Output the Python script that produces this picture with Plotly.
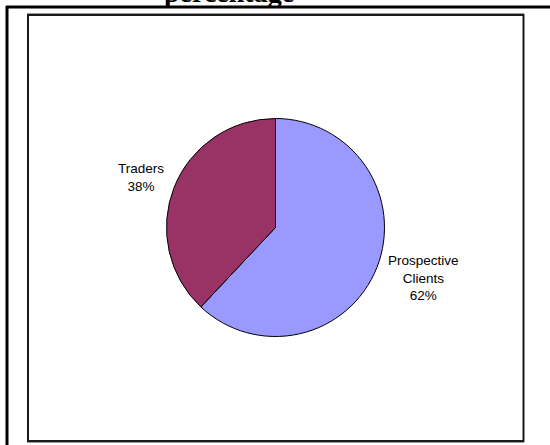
import plotly.graph_objects as go

# Chart data
labels = ["Prospective Clients", "Traders"]
values = [62, 38]
colors = ["#9999FF", "#993366"]
title_text = "percentage"

W, H = 550, 445


def px_x(x):
    return x / W


def px_y(y):
    return 1 - y / H


# Pie geometry (pixels)
cx, cy, r = 275.5, 227.5, 109

fig = go.Figure(
    go.Pie(
        labels=labels,
        values=values,
        sort=False,
        direction="clockwise",
        rotation=0,
        marker=dict(colors=colors, line=dict(color="black", width=1)),
        textinfo="none",
        hoverinfo="label+percent",
        showlegend=False,
        domain=dict(x=[px_x(cx - r), px_x(cx + r)], y=[px_y(cy + r), px_y(cy - r)]),
    )
)

total = sum(values)
pcts = [round(v / total * 100) for v in values]

# Outside slice labels
label_pos = {
    "Prospective Clients": (423, 278),
    "Traders": (141, 177),
}
annotations = []
for lab, pct in zip(labels, pcts):
    x, y = label_pos[lab]
    txt = "<br>".join(lab.split(" ")) + f"<br>{pct}%"
    annotations.append(
        dict(
            x=px_x(x), y=px_y(y), xref="paper", yref="paper",
            text=txt, showarrow=False, xanchor="center", yanchor="middle",
            font=dict(family="Liberation Sans, Arial", size=13.5, color="black"),
        )
    )

# Title, mostly above the visible page
annotations.append(
    dict(
        x=px_x(229), y=px_y(5), xref="paper", yref="paper",
        text=f"<b>{title_text}</b>", showarrow=False,
        xanchor="center", yanchor="bottom",
        font=dict(family="Liberation Serif, Times New Roman", size=28, color="black"),
        yshift=-5,
    )
)

shapes = [
    # outer frame lines
    dict(type="line", xref="paper", yref="paper", x0=px_x(7), x1=px_x(7),
         y0=px_y(6), y1=px_y(445), line=dict(color="black", width=3)),
    dict(type="line", xref="paper", yref="paper", x0=px_x(6), x1=px_x(550),
         y0=px_y(7), y1=px_y(7), line=dict(color="black", width=3)),
    # plot area border
    dict(type="line", xref="paper", yref="paper", x0=px_x(27), x1=px_x(524),
         y0=px_y(14), y1=px_y(14), line=dict(color="#9a9a9a", width=2)),
    dict(type="line", xref="paper", yref="paper", x0=px_x(27), x1=px_x(524),
         y0=px_y(442.5), y1=px_y(442.5), line=dict(color="#9a9a9a", width=1)),
    dict(type="rect", xref="paper", yref="paper", x0=px_x(28), x1=px_x(523.5),
         y0=px_y(15), y1=px_y(441), line=dict(color="#1a1a1a", width=2)),
]

fig.update_layout(
    width=W, height=H,
    margin=dict(l=0, r=0, t=0, b=0),
    paper_bgcolor="white",
    plot_bgcolor="white",
    annotations=annotations,
    shapes=shapes,
)

fig.write_html("out.html")
